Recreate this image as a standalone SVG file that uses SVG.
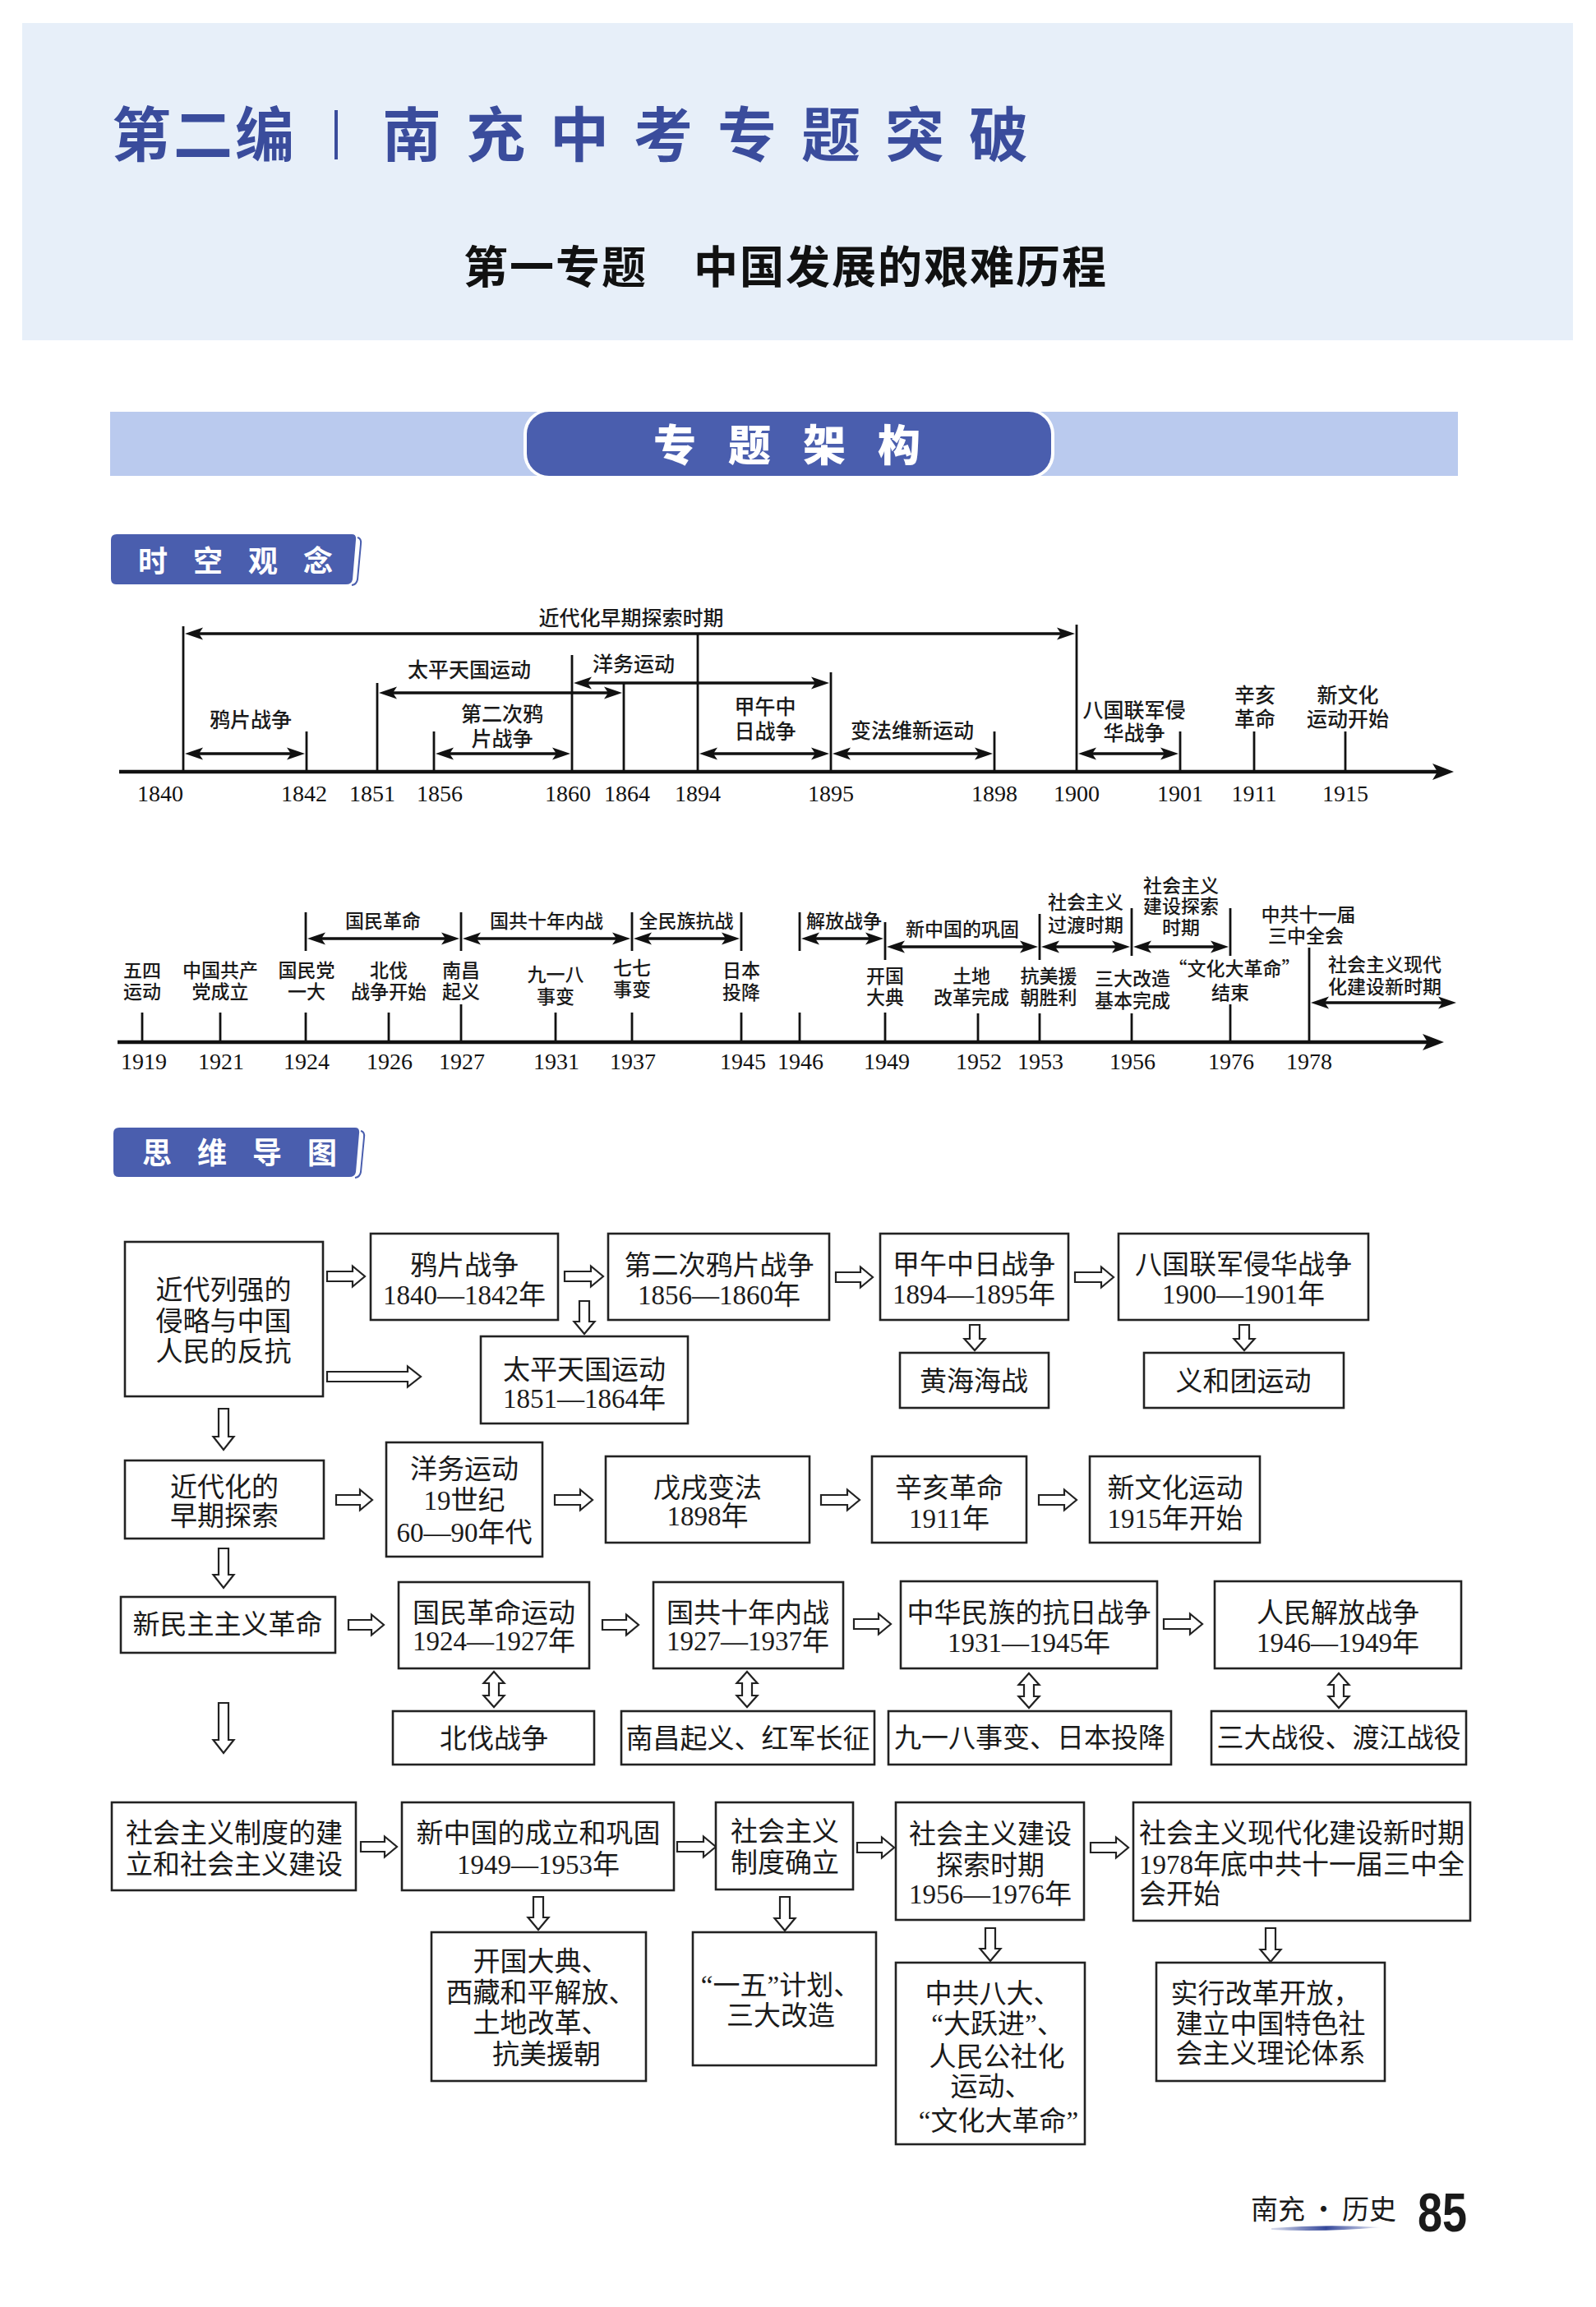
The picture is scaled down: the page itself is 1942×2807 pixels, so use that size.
<svg xmlns="http://www.w3.org/2000/svg" width="1942" height="2807" viewBox="0 0 1942 2807">
<defs>
<style>
.tl{font-family:"Noto Sans CJK SC","Noto Sans",sans-serif;font-size:25px;font-weight:500;fill:#1a1a1a;text-anchor:middle}
.t2{font-family:"Noto Sans CJK SC","Noto Sans",sans-serif;font-size:23px;font-weight:500;fill:#1a1a1a;text-anchor:middle}
.yr{font-family:"Liberation Serif","DejaVu Serif",serif;font-size:28px;fill:#111;text-anchor:middle}
.mm{font-family:"Liberation Serif","Noto Sans CJK SC",serif;font-size:33px;fill:#1a1a1a;text-anchor:middle}
.mms{font-family:"Liberation Serif","Noto Sans CJK SC",serif;font-size:33px;fill:#1a1a1a;text-anchor:start}
.box{fill:#fff;stroke:#222;stroke-width:2.6}
.ha{fill:#fff;stroke:#222;stroke-width:2.2;stroke-linejoin:miter}
.vl{stroke:#111;stroke-width:2.8}
.ar{stroke:#111;stroke-width:3.4;fill:none;marker-start:url(#ah);marker-end:url(#ah)}
.ax{stroke:#111;stroke-width:4.5;fill:none;marker-end:url(#axh)}
.lab{font-family:"Noto Sans CJK SC",sans-serif;font-size:36px;font-weight:700;fill:#fff;letter-spacing:31px}
</style>
<marker id="ah" markerUnits="userSpaceOnUse" markerWidth="24" markerHeight="18" refX="12" refY="9" orient="auto-start-reverse"><path d="M22,9 L0,1.5 L5,9 L0,16.5 Z" fill="#111"/></marker>
<marker id="axh" markerUnits="userSpaceOnUse" markerWidth="28" markerHeight="22" refX="14" refY="11" orient="auto"><path d="M26,11 L0,1 L6,11 L0,21 Z" fill="#111"/></marker>
<linearGradient id="ul" x1="0" x2="1" y1="0" y2="0"><stop offset="0" stop-color="#3a4ea0" stop-opacity="0.2"/><stop offset="0.5" stop-color="#34479a"/><stop offset="1" stop-color="#3a4ea0" stop-opacity="0.1"/></linearGradient>
</defs>
<rect x="0" y="0" width="1942" height="2807" fill="#fff"/>

<g id="header">
<rect x="27" y="28" width="1887" height="386" fill="#e7eff9"/>
<text x="136" y="190" font-family="Noto Sans CJK SC,sans-serif" font-size="72" font-weight="700" fill="#3a4c9c" letter-spacing="3">第二编</text>
<rect x="407" y="134" width="4" height="60" fill="#3a4c9c"/>
<text x="465" y="190" font-family="Noto Sans CJK SC,sans-serif" font-size="72" font-weight="700" fill="#3a4c9c" letter-spacing="30">南充中考专题突破</text>
<text x="564" y="345" font-family="Noto Sans CJK SC,sans-serif" font-size="54" font-weight="700" fill="#111" letter-spacing="2">第一专题　中国发展的艰难历程</text>
</g>

<g id="banner">
<rect x="134" y="501" width="1640" height="78" fill="#bacaee"/>
<rect x="637" y="498" width="646" height="84" rx="30" fill="#fff"/>
<rect x="641" y="501" width="638" height="78" rx="27" fill="#4a5eae"/>
<text x="795" y="561" font-family="Noto Sans CJK SC,sans-serif" font-size="52" font-weight="900" fill="#fff" letter-spacing="39">专题架构</text>
</g>

<g id="label-sk">
<path d="M142,650 H428 Q434,650 433,657 L429,705 Q428,711 421,711 H141 Q135,711 135,704 V657 Q135,650 142,650 Z" fill="#4a5eae"/>
<path d="M435,654 Q440,655 439,662 L435,705 Q434,711 428,712" fill="none" stroke="#4a5eae" stroke-width="2"/>
<text class="lab" x="168" y="696">时空观念</text>
</g>

<g id="label-mm">
<path d="M145,1372 H432 Q438,1372 437,1379 L433,1426 Q432,1432 425,1432 H144 Q138,1432 138,1425 V1379 Q138,1372 145,1372 Z" fill="#4a5eae"/>
<path d="M439,1376 Q444,1377 443,1384 L439,1426 Q438,1432 432,1433" fill="none" stroke="#4a5eae" stroke-width="2"/>
<text class="lab" x="173" y="1416">思维导图</text>
</g>

<g id="timeline1">
<line class="ax" x1="145" y1="939" x2="1757" y2="939"/>
<g class="vl">
<line x1="223" y1="762" x2="223" y2="939"/>
<line x1="373" y1="890" x2="373" y2="939"/>
<line x1="459" y1="831" x2="459" y2="939"/>
<line x1="528" y1="890" x2="528" y2="939"/>
<line x1="696" y1="797" x2="696" y2="939"/>
<line x1="759" y1="832" x2="759" y2="939"/>
<line x1="849" y1="771" x2="849" y2="939"/>
<line x1="1011" y1="818" x2="1011" y2="939"/>
<line x1="1210" y1="890" x2="1210" y2="939"/>
<line x1="1310" y1="760" x2="1310" y2="939"/>
<line x1="1436" y1="890" x2="1436" y2="939"/>
<line x1="1526" y1="890" x2="1526" y2="939"/>
<line x1="1637" y1="890" x2="1637" y2="939"/>
</g>
<line class="ar" x1="235" y1="771" x2="1298" y2="771"/>
<line class="ar" x1="471" y1="843" x2="747" y2="843"/>
<line class="ar" x1="708" y1="831" x2="999" y2="831"/>
<line class="ar" x1="235" y1="917" x2="361" y2="917"/>
<line class="ar" x1="540" y1="917" x2="684" y2="917"/>
<line class="ar" x1="861" y1="917" x2="999" y2="917"/>
<line class="ar" x1="1023" y1="917" x2="1198" y2="917"/>
<line class="ar" x1="1322" y1="917" x2="1424" y2="917"/>
<text class="tl" x="768" y="761" font-size="26">近代化早期探索时期</text>
<text class="tl" x="571" y="824">太平天国运动</text>
<text class="tl" x="771" y="817">洋务运动</text>
<text class="tl" x="305" y="885">鸦片战争</text>
<text class="tl" x="611" y="878">第二次鸦<tspan x="611" y="908">片战争</tspan></text>
<text class="tl" x="931" y="869">甲午中<tspan x="931" y="899">日战争</tspan></text>
<text class="tl" x="1110" y="898">变法维新运动</text>
<text class="tl" x="1380" y="873">八国联军侵<tspan x="1380" y="901">华战争</tspan></text>
<text class="tl" x="1527" y="855">辛亥<tspan x="1527" y="884">革命</tspan></text>
<text class="tl" x="1640" y="855">新文化<tspan x="1640" y="884">运动开始</tspan></text>
<text class="yr" x="195" y="975">1840</text>
<text class="yr" x="370" y="975">1842</text>
<text class="yr" x="453" y="975">1851</text>
<text class="yr" x="535" y="975">1856</text>
<text class="yr" x="691" y="975">1860</text>
<text class="yr" x="763" y="975">1864</text>
<text class="yr" x="849" y="975">1894</text>
<text class="yr" x="1011" y="975">1895</text>
<text class="yr" x="1210" y="975">1898</text>
<text class="yr" x="1310" y="975">1900</text>
<text class="yr" x="1436" y="975">1901</text>
<text class="yr" x="1526" y="975">1911</text>
<text class="yr" x="1637" y="975">1915</text>
</g>

<g id="timeline2">
<line class="ax" x1="143" y1="1268" x2="1745" y2="1268"/>
<g class="vl">
<line x1="173" y1="1232" x2="173" y2="1268"/>
<line x1="268" y1="1232" x2="268" y2="1268"/>
<line x1="372" y1="1232" x2="372" y2="1268"/>
<line x1="473" y1="1232" x2="473" y2="1268"/>
<line x1="561" y1="1222" x2="561" y2="1268"/>
<line x1="676" y1="1232" x2="676" y2="1268"/>
<line x1="769" y1="1232" x2="769" y2="1268"/>
<line x1="902" y1="1232" x2="902" y2="1268"/>
<line x1="973" y1="1232" x2="973" y2="1268"/>
<line x1="1077" y1="1232" x2="1077" y2="1268"/>
<line x1="1190" y1="1233" x2="1190" y2="1268"/>
<line x1="1265" y1="1233" x2="1265" y2="1268"/>
<line x1="1377" y1="1233" x2="1377" y2="1268"/>
<line x1="1497" y1="1222" x2="1497" y2="1268"/>
<line x1="1593" y1="1153" x2="1593" y2="1268"/>
<line x1="372" y1="1110" x2="372" y2="1157"/>
<line x1="561" y1="1110" x2="561" y2="1157"/>
<line x1="769" y1="1110" x2="769" y2="1157"/>
<line x1="902" y1="1110" x2="902" y2="1157"/>
<line x1="973" y1="1110" x2="973" y2="1157"/>
<line x1="1077" y1="1122" x2="1077" y2="1168"/>
<line x1="1265" y1="1112" x2="1265" y2="1168"/>
<line x1="1377" y1="1105" x2="1377" y2="1163"/>
<line x1="1497" y1="1105" x2="1497" y2="1163"/>
</g>
<line class="ar" x1="384" y1="1142" x2="549" y2="1142"/>
<line class="ar" x1="573" y1="1142" x2="757" y2="1142"/>
<line class="ar" x1="781" y1="1142" x2="890" y2="1142"/>
<line class="ar" x1="985" y1="1142" x2="1065" y2="1142"/>
<line class="ar" x1="1089" y1="1152" x2="1253" y2="1152"/>
<line class="ar" x1="1277" y1="1152" x2="1365" y2="1152"/>
<line class="ar" x1="1389" y1="1152" x2="1485" y2="1152"/>
<line class="ar" x1="1605" y1="1220" x2="1762" y2="1220"/>
<text class="t2" x="466" y="1129">国民革命</text>
<text class="t2" x="665" y="1129">国共十年内战</text>
<text class="t2" x="835" y="1129">全民族抗战</text>
<text class="t2" x="1027" y="1129">解放战争</text>
<text class="t2" x="1171" y="1139">新中国的巩固</text>
<text class="t2" x="1321" y="1106">社会主义<tspan x="1321" y="1134">过渡时期</tspan></text>
<text class="t2" x="1437" y="1086">社会主义<tspan x="1437" y="1111">建设探索</tspan><tspan x="1437" y="1137">时期</tspan></text>
<text class="t2" x="1592" y="1121">中共十一届<tspan x="1589" y="1147">三中全会</tspan></text>
<text class="t2" x="1685" y="1182">社会主义现代<tspan x="1685" y="1209">化建设新时期</tspan></text>
<text class="t2" x="173" y="1189">五四<tspan x="173" y="1215">运动</tspan></text>
<text class="t2" x="268" y="1189">中国共产<tspan x="268" y="1215">党成立</tspan></text>
<text class="t2" x="373" y="1189">国民党<tspan x="373" y="1215">一大</tspan></text>
<text class="t2" x="473" y="1189">北伐<tspan x="473" y="1215">战争开始</tspan></text>
<text class="t2" x="561" y="1189">南昌<tspan x="561" y="1215">起义</tspan></text>
<text class="t2" x="676" y="1194">九一八<tspan x="676" y="1221">事变</tspan></text>
<text class="t2" x="769" y="1186">七七<tspan x="769" y="1212">事变</tspan></text>
<text class="t2" x="902" y="1189">日本<tspan x="902" y="1216">投降</tspan></text>
<text class="t2" x="1077" y="1196">开国<tspan x="1077" y="1222">大典</tspan></text>
<text class="t2" x="1182" y="1196">土地<tspan x="1182" y="1222">改革完成</tspan></text>
<text class="t2" x="1276" y="1196">抗美援<tspan x="1276" y="1222">朝胜利</tspan></text>
<text class="t2" x="1378" y="1199">三大改造<tspan x="1378" y="1226">基本完成</tspan></text>
<text class="t2" x="1502" y="1187">“文化大革命”<tspan x="1497" y="1216">结束</tspan></text>
<text class="yr" x="175" y="1301">1919</text>
<text class="yr" x="269" y="1301">1921</text>
<text class="yr" x="373" y="1301">1924</text>
<text class="yr" x="474" y="1301">1926</text>
<text class="yr" x="562" y="1301">1927</text>
<text class="yr" x="677" y="1301">1931</text>
<text class="yr" x="770" y="1301">1937</text>
<text class="yr" x="904" y="1301">1945</text>
<text class="yr" x="974" y="1301">1946</text>
<text class="yr" x="1079" y="1301">1949</text>
<text class="yr" x="1191" y="1301">1952</text>
<text class="yr" x="1266" y="1301">1953</text>
<text class="yr" x="1378" y="1301">1956</text>
<text class="yr" x="1498" y="1301">1976</text>
<text class="yr" x="1593" y="1301">1978</text>
</g>

<g id="connectors">
<path class="ha" d="M398,1547 H429 V1540.5 L444,1553 L429,1565.5 V1559 H398 Z"/>
<path class="ha" d="M687,1547 H719 V1540.5 L734,1553 L719,1565.5 V1559 H687 Z"/>
<path class="ha" d="M1017,1548 H1047 V1541.5 L1062,1554 L1047,1566.5 V1560 H1017 Z"/>
<path class="ha" d="M1308,1548 H1340 V1541.5 L1355,1554 L1340,1566.5 V1560 H1308 Z"/>
<path class="ha" d="M398,1669 H496 V1662.5 L512,1675 L496,1687.5 V1681 H398 Z"/>
<path class="ha" d="M409,1819 H438 V1812.5 L453,1825 L438,1837.5 V1831 H409 Z"/>
<path class="ha" d="M675,1819 H706 V1812.5 L721,1825 L706,1837.5 V1831 H675 Z"/>
<path class="ha" d="M999,1819 H1031 V1812.5 L1046,1825 L1031,1837.5 V1831 H999 Z"/>
<path class="ha" d="M1264,1819 H1295 V1812.5 L1310,1825 L1295,1837.5 V1831 H1264 Z"/>
<path class="ha" d="M424,1971 H452 V1964.5 L467,1977 L452,1989.5 V1983 H424 Z"/>
<path class="ha" d="M733,1971 H762 V1964.5 L777,1977 L762,1989.5 V1983 H733 Z"/>
<path class="ha" d="M1039,1970 H1069 V1963.5 L1084,1976 L1069,1988.5 V1982 H1039 Z"/>
<path class="ha" d="M1416,1970 H1448 V1963.5 L1463,1976 L1448,1988.5 V1982 H1416 Z"/>
<path class="ha" d="M439,2241 H468 V2234.5 L483,2247 L468,2259.5 V2253 H439 Z"/>
<path class="ha" d="M824,2241 H856 V2234.5 L871,2247 L856,2259.5 V2253 H824 Z"/>
<path class="ha" d="M1043,2242 H1073 V2235.5 L1088,2248 L1073,2260.5 V2254 H1043 Z"/>
<path class="ha" d="M1327,2242 H1358 V2235.5 L1373,2248 L1358,2260.5 V2254 H1327 Z"/>
<path class="ha" d="M705,1583 H717 V1608 H723.5 L711,1623 L698.5,1608 H705 Z"/>
<path class="ha" d="M1180,1612 H1192 V1629 H1198.5 L1186,1643 L1173.5,1629 H1180 Z"/>
<path class="ha" d="M1508,1612 H1520 V1629 H1526.5 L1514,1643 L1501.5,1629 H1508 Z"/>
<path class="ha" d="M266,1714 H278 V1748 H284.5 L272,1764 L259.5,1748 H266 Z"/>
<path class="ha" d="M266,1884 H278 V1916 H284.5 L272,1932 L259.5,1916 H266 Z"/>
<path class="ha" d="M266,2072 H278 V2117 H284.5 L272,2133 L259.5,2117 H266 Z"/>
<path class="ha" d="M649,2308 H661 V2333 H667.5 L655,2348 L642.5,2333 H649 Z"/>
<path class="ha" d="M949,2308 H961 V2334 H967.5 L955,2349 L942.5,2334 H949 Z"/>
<path class="ha" d="M1199,2346 H1211 V2371 H1217.5 L1205,2386 L1192.5,2371 H1199 Z"/>
<path class="ha" d="M1540,2346 H1552 V2372 H1558.5 L1546,2387 L1533.5,2372 H1540 Z"/>
<path class="ha" d="M601,2034 L613.5,2048 H607 V2063 H613.5 L601,2077 L588.5,2063 H595 V2048 H588.5 Z"/>
<path class="ha" d="M909,2034 L921.5,2048 H915 V2063 H921.5 L909,2077 L896.5,2063 H903 V2048 H896.5 Z"/>
<path class="ha" d="M1252,2036 L1264.5,2050 H1258 V2064 H1264.5 L1252,2078 L1239.5,2064 H1246 V2050 H1239.5 Z"/>
<path class="ha" d="M1629,2036 L1641.5,2050 H1635 V2064 H1641.5 L1629,2078 L1616.5,2064 H1623 V2050 H1616.5 Z"/>
</g>

<g id="n-A"><rect class="box" x="152" y="1511" width="241" height="188"/><text class="mm" x="272" y="1581">近代列强的<tspan x="272" y="1619">侵略与中国</tspan><tspan x="272" y="1656">人民的反抗</tspan></text></g>
<g id="n-B"><rect class="box" x="451" y="1501" width="228" height="105"/><text class="mm" x="565" y="1551">鸦片战争<tspan x="565" y="1587">1840—1842年</tspan></text></g>
<g id="n-C"><rect class="box" x="740" y="1501" width="269" height="105"/><text class="mm" x="875" y="1551">第二次鸦片战争<tspan x="875" y="1587">1856—1860年</tspan></text></g>
<g id="n-D"><rect class="box" x="585" y="1626" width="252" height="106"/><text class="mm" x="711" y="1678">太平天国运动<tspan x="711" y="1713">1851—1864年</tspan></text></g>
<g id="n-E"><rect class="box" x="152" y="1777" width="242" height="95"/><text class="mm" x="273" y="1821">近代化的<tspan x="273" y="1856">早期探索</tspan></text></g>
<g id="n-F"><rect class="box" x="470" y="1755" width="190" height="139"/><text class="mm" x="565" y="1799">洋务运动<tspan x="565" y="1837">19世纪</tspan><tspan x="565" y="1876">60—90年代</tspan></text></g>
<g id="n-G"><rect class="box" x="737" y="1772" width="248" height="105"/><text class="mm" x="861" y="1822">戊戌变法<tspan x="861" y="1856">1898年</tspan></text></g>
<g id="n-H"><rect class="box" x="147" y="1943" width="261" height="68"/><text class="mm" x="277" y="1988">新民主主义革命</text></g>
<g id="n-I"><rect class="box" x="485" y="1925" width="232" height="105"/><text class="mm" x="601" y="1974">国民革命运动<tspan x="601" y="2008">1924—1927年</tspan></text></g>
<g id="n-J"><rect class="box" x="795" y="1925" width="231" height="105"/><text class="mm" x="910" y="1974">国共十年内战<tspan x="910" y="2008">1927—1937年</tspan></text></g>
<g id="n-K"><rect class="box" x="1071" y="1501" width="229" height="105"/><text class="mm" x="1185" y="1550">甲午中日战争<tspan x="1185" y="1586">1894—1895年</tspan></text></g>
<g id="n-L"><rect class="box" x="1361" y="1501" width="304" height="105"/><text class="mm" x="1513" y="1550">八国联军侵华战争<tspan x="1513" y="1586">1900—1901年</tspan></text></g>
<g id="n-M"><rect class="box" x="1095" y="1646" width="181" height="67"/><text class="mm" x="1185" y="1692">黄海海战</text></g>
<g id="n-N"><rect class="box" x="1392" y="1646" width="243" height="67"/><text class="mm" x="1513" y="1692">义和团运动</text></g>
<g id="n-O"><rect class="box" x="1061" y="1772" width="188" height="105"/><text class="mm" x="1155" y="1822">辛亥革命<tspan x="1155" y="1859">1911年</tspan></text></g>
<g id="n-P"><rect class="box" x="1326" y="1772" width="207" height="105"/><text class="mm" x="1430" y="1822">新文化运动<tspan x="1430" y="1859">1915年开始</tspan></text></g>
<g id="n-Q"><rect class="box" x="1096" y="1924" width="312" height="106"/><text class="mm" x="1252" y="1974">中华民族的抗日战争<tspan x="1252" y="2010">1931—1945年</tspan></text></g>
<g id="n-R"><rect class="box" x="1478" y="1924" width="300" height="106"/><text class="mm" x="1628" y="1974">人民解放战争<tspan x="1628" y="2010">1946—1949年</tspan></text></g>
<g id="n-S"><rect class="box" x="1081" y="2082" width="344" height="65"/><text class="mm" x="1253" y="2126">九一八事变、日本投降</text></g>
<g id="n-T"><rect class="box" x="1474" y="2082" width="310" height="65"/><text class="mm" x="1629" y="2126">三大战役、渡江战役</text></g>
<g id="n-U"><rect class="box" x="478" y="2082" width="245" height="65"/><text class="mm" x="601" y="2127">北伐战争</text></g>
<g id="n-V"><rect class="box" x="756" y="2082" width="308" height="65"/><text class="mm" x="910" y="2127">南昌起义、红军长征</text></g>
<g id="n-W"><rect class="box" x="136" y="2193" width="297" height="107"/><text class="mm" x="285" y="2242">社会主义制度的建<tspan x="285" y="2280">立和社会主义建设</tspan></text></g>
<g id="n-X"><rect class="box" x="489" y="2193" width="331" height="107"/><text class="mm" x="655" y="2242">新中国的成立和巩固<tspan x="655" y="2280">1949—1953年</tspan></text></g>
<g id="n-Y"><rect class="box" x="871" y="2193" width="167" height="106"/><text class="mm" x="955" y="2240">社会主义<tspan x="955" y="2278">制度确立</tspan></text></g>
<g id="n-Z"><rect class="box" x="525" y="2351" width="261" height="181"/><text class="mm" x="658" y="2398">开国大典、<tspan x="658" y="2436">西藏和平解放、</tspan><tspan x="658" y="2473">土地改革、</tspan><tspan x="665" y="2511">抗美援朝</tspan></text></g>
<g id="n-AA"><rect class="box" x="843" y="2351" width="223" height="162"/><text class="mm" x="950" y="2427">“一五”计划、<tspan x="950" y="2464">三大改造</tspan></text></g>
<g id="n-AB"><rect class="box" x="1090" y="2193" width="229" height="143"/><text class="mm" x="1205" y="2243">社会主义建设<tspan x="1205" y="2281">探索时期</tspan><tspan x="1205" y="2316">1956—1976年</tspan></text></g>
<g id="n-AC"><rect class="box" x="1379" y="2193" width="410" height="144"/><text class="mms" x="1386" y="2242">社会主义现代化建设新时期<tspan x="1386" y="2280">1978年底中共十一届三中全</tspan><tspan x="1386" y="2316">会开始</tspan></text></g>
<g id="n-AD"><rect class="box" x="1090" y="2388" width="230" height="221"/><text class="mm" x="1208" y="2437">中共八大、<tspan x="1214" y="2474">“大跃进”、</tspan><tspan x="1213" y="2514">人民公社化</tspan><tspan x="1206" y="2550">运动、</tspan><tspan x="1215" y="2592">“文化大革命”</tspan></text></g>
<g id="n-AE"><rect class="box" x="1407" y="2388" width="278" height="144"/><text class="mm" x="1540" y="2437">实行改革开放，<tspan x="1546" y="2474">建立中国特色社</tspan><tspan x="1546" y="2510">会主义理论体系</tspan></text></g>

<g id="footer">
<text x="1522" y="2700" font-family="Noto Sans CJK SC,sans-serif" font-size="33" fill="#1a1a1a">南充<tspan dx="6">·</tspan><tspan dx="6">历史</tspan></text>
<path d="M1547,2711 Q1613,2706 1680,2710 Q1613,2716 1547,2713 Z" fill="url(#ul)"/>
<text x="1725" y="2715" font-family="Liberation Sans,Arial,sans-serif" font-size="66" font-weight="700" fill="#1a1a1a" textLength="60" lengthAdjust="spacingAndGlyphs">85</text>
</g>
</svg>
